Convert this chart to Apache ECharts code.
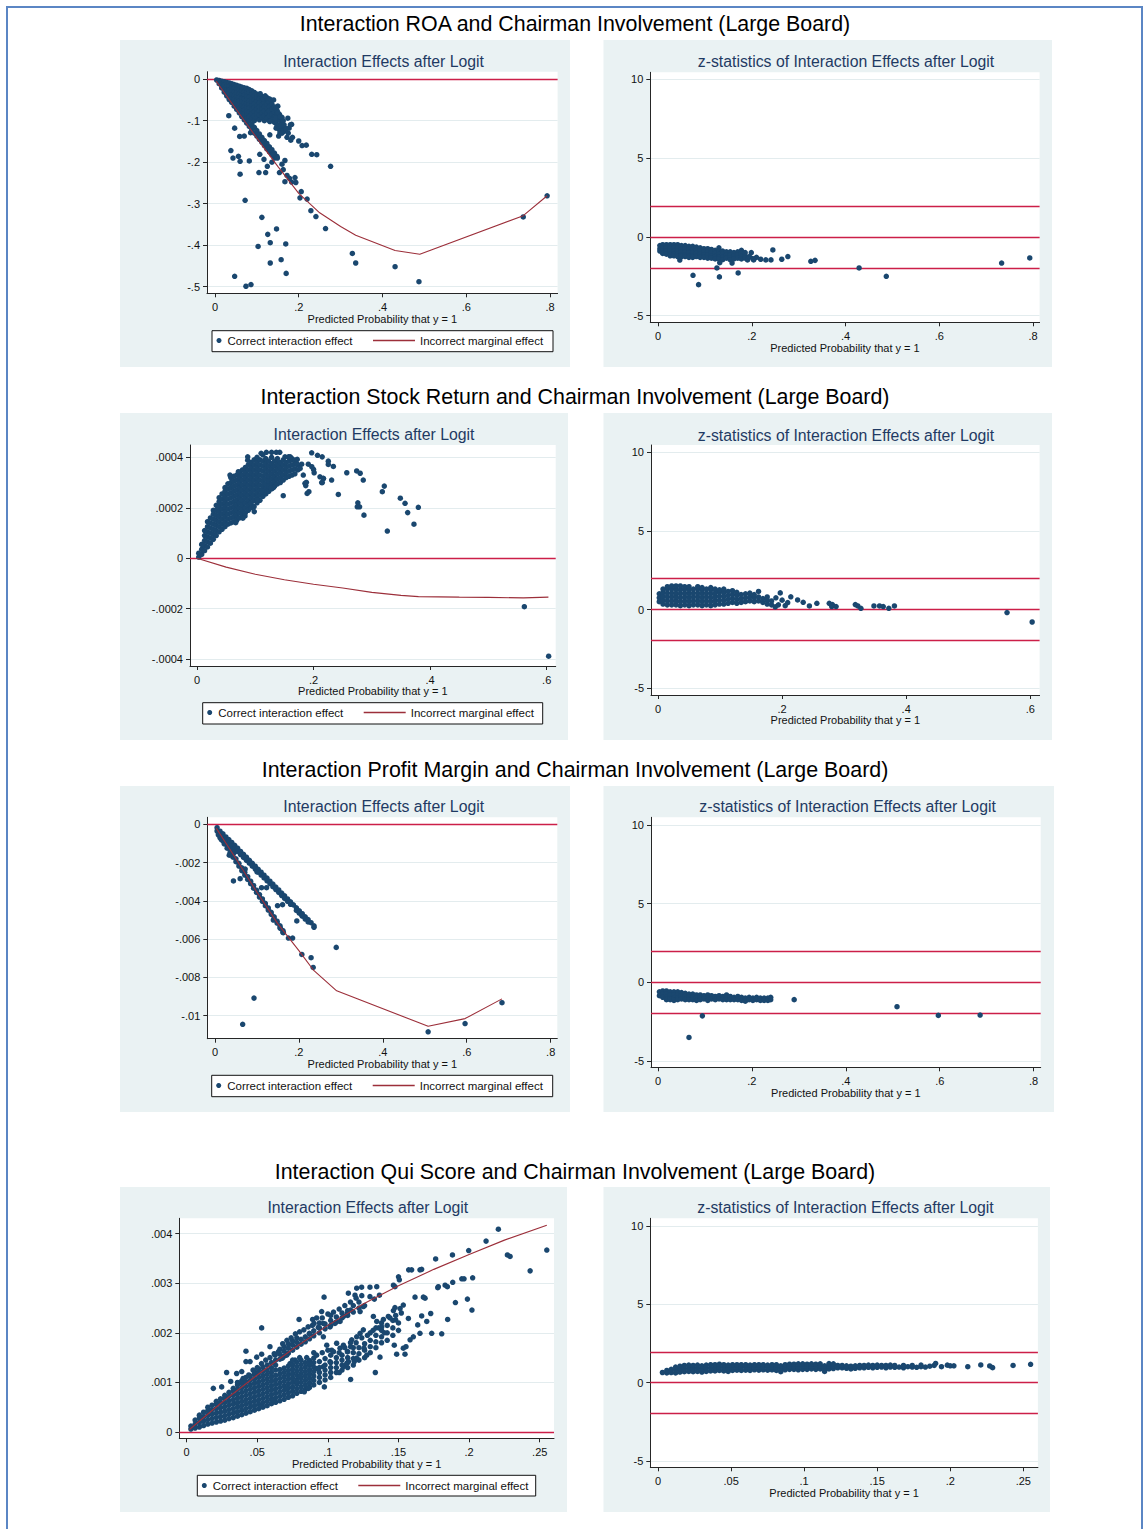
<!DOCTYPE html>
<html>
<head>
<meta charset="utf-8">
<title>Interaction effects after logit</title>
<script src="https://cdn.jsdelivr.net/npm/echarts@6/dist/echarts.min.js"></script>
<style>
  html, body { margin: 0; padding: 0; background: #ffffff; }
  #chart { width: 1144px; height: 1529px; }
</style>
</head>
<body>
<div id="chart"></div>
<script>
// ---------------------------------------------------------------
// Row titles
// ---------------------------------------------------------------
const rowTitles = [
  'Interaction ROA and Chairman Involvement (Large Board)',
  'Interaction Stock Return and Chairman Involvement (Large Board)',
  'Interaction Profit Margin and Chairman Involvement (Large Board)',
  'Interaction Qui Score and Chairman Involvement (Large Board)'
];
const effectTitle = 'Interaction Effects after Logit';
const zTitle = 'z-statistics of Interaction Effects after Logit';
const xAxisTitle = 'Predicted Probability that y = 1';
const legendNames = ['Correct interaction effect', 'Incorrect marginal effect'];

// ---------------------------------------------------------------
// Tick values
// ---------------------------------------------------------------
const probTicks08 = [0, 0.2, 0.4, 0.6, 0.8];
const probTicks06 = [0, 0.2, 0.4, 0.6];
const probTicks025 = [0, 0.05, 0.1, 0.15, 0.2, 0.25];
const zTicks = [-5, 0, 5, 10];
const roaEffectTicks = [0, -0.1, -0.2, -0.3, -0.4, -0.5];
const stockEffectTicks = [-0.0004, -0.0002, 0, 0.0002, 0.0004];
const marginEffectTicks = [0, -0.002, -0.004, -0.006, -0.008, -0.01];
const quiEffectTicks = [0, 0.001, 0.002, 0.003, 0.004];
const zCritical = [1.96, 0, -1.96];

// ---------------------------------------------------------------
// ROA: interaction effect (dense part as columns [x, [y...]])
// ---------------------------------------------------------------
const roaCore = [
  [0.004, [-0.002]],
  [0.01, [-0.003, -0.011]],
  [0.016, [-0.005, -0.013, -0.021]],
  [0.022, [-0.006, -0.015, -0.024, -0.031]],
  [0.028, [-0.008, -0.017, -0.026, -0.035, -0.04]],
  [0.034, [-0.009, -0.018, -0.027, -0.036, -0.045, -0.049]],
  [0.04, [-0.011, -0.02, -0.029, -0.038, -0.047, -0.056]],
  [0.046, [-0.013, -0.022, -0.031, -0.04, -0.049, -0.058, -0.065]],
  [0.052, [-0.015, -0.024, -0.033, -0.042, -0.051, -0.06, -0.069, -0.073]],
  [0.058, [-0.017, -0.026, -0.035, -0.044, -0.053, -0.062, -0.071, -0.081]],
  [0.064, [-0.019, -0.028, -0.037, -0.046, -0.055, -0.064, -0.073, -0.082, -0.09]],
  [0.07, [-0.021, -0.03, -0.039, -0.048, -0.057, -0.066, -0.075, -0.084, -0.093, -0.098]],
  [0.076, [-0.022, -0.032, -0.041, -0.05, -0.059, -0.068, -0.077, -0.086, -0.095, -0.106]],
  [0.082, [-0.025, -0.034, -0.043, -0.052, -0.061, -0.07, -0.079, -0.09, -0.1, -0.114]],
  [0.088, [-0.028, -0.037, -0.046, -0.055, -0.064, -0.073, -0.083, -0.094, -0.108, -0.122]],
  [0.094, [-0.032, -0.041, -0.05, -0.059, -0.068, -0.078, -0.088, -0.1, -0.116, -0.13]],
  [0.1, [-0.036, -0.045, -0.054, -0.063, -0.072, -0.082, -0.093, -0.124, -0.137]],
  [0.106, [-0.038, -0.048, -0.058, -0.067, -0.077, -0.087, -0.098, -0.132, -0.145]],
  [0.112, [-0.042, -0.052, -0.062, -0.072, -0.082, -0.092, -0.14, -0.152]],
  [0.118, [-0.046, -0.056, -0.066, -0.077, -0.088, -0.1, -0.148, -0.16]],
  [0.124, [-0.05, -0.06, -0.071, -0.082, -0.094, -0.155, -0.168]],
  [0.13, [-0.055, -0.066, -0.077, -0.088, -0.1, -0.163, -0.175]],
  [0.136, [-0.06, -0.072, -0.084, -0.095, -0.17, -0.182]],
  [0.142, [-0.067, -0.08, -0.092, -0.104, -0.178, -0.19]],
  [0.148, [-0.075, -0.088, -0.1, -0.112, -0.186]],
  [0.154, [-0.085, -0.098, -0.11, -0.122]],
  [0.16, [-0.092, -0.105, -0.118]]
];
const roaScatter = [
  [0.033, -0.088], [0.047, -0.118], [0.038, -0.172], [0.043, -0.19], [0.056, -0.186],
  [0.06, -0.198], [0.06, -0.229], [0.082, -0.197], [0.105, -0.225], [0.121, -0.225],
  [0.072, -0.292], [0.112, -0.333], [0.126, -0.374], [0.147, -0.361], [0.132, -0.394],
  [0.103, -0.403], [0.169, -0.397], [0.158, -0.435], [0.132, -0.443], [0.17, -0.468],
  [0.047, -0.475], [0.074, -0.499], [0.086, -0.495], [0.276, -0.21], [0.264, -0.36],
  [0.241, -0.331], [0.229, -0.317], [0.22, -0.289], [0.203, -0.286], [0.206, -0.271],
  [0.328, -0.42], [0.336, -0.443], [0.43, -0.452], [0.487, -0.488], [0.736, -0.332],
  [0.793, -0.281], [0.2, -0.149], [0.208, -0.16], [0.218, -0.159], [0.231, -0.181],
  [0.243, -0.182], [0.174, -0.094], [0.183, -0.109], [0.131, -0.048], [0.114, -0.047],
  [0.165, -0.126], [0.172, -0.14], [0.181, -0.147], [0.152, -0.137], [0.131, -0.134],
  [0.141, -0.182], [0.149, -0.19], [0.16, -0.205], [0.167, -0.196], [0.163, -0.218],
  [0.154, -0.225], [0.172, -0.232], [0.167, -0.247], [0.178, -0.239], [0.191, -0.237],
  [0.183, -0.248], [0.193, -0.249], [0.059, -0.138], [0.07, -0.137], [0.085, -0.129],
  [0.107, -0.181], [0.117, -0.193], [0.137, -0.182], [0.136, -0.098], [0.145, -0.094],
  [0.156, -0.112], [0.167, -0.118], [0.161, -0.126], [0.146, -0.118], [0.155, -0.13],
  [0.131, -0.102], [0.163, -0.1], [0.177, -0.118], [0.15, -0.065], [0.125, -0.21], [0.136, -0.2],
  [0.15, -0.08], [0.155, -0.09], [0.16, -0.13], [0.165, -0.11], [0.17, -0.12], [0.175, -0.13],
  [0.18, -0.11], [0.185, -0.14], [0.14, -0.05], [0.145, -0.07], [0.125, -0.045], [0.12, -0.04],
  [0.108, -0.035]
];
const roaMarginalX = [0.003, 0.05, 0.1, 0.15, 0.2, 0.25, 0.3, 0.336, 0.43, 0.489, 0.736, 0.793];
const roaMarginalY = [-0.005, -0.072, -0.142, -0.21, -0.275, -0.322, -0.355, -0.376, -0.413, -0.422, -0.329, -0.281];

// ROA: z-statistics
const roaZBand = [
  [0.004, [-0.55, -0.75, -0.9]],
  [0.01, [-0.5, -0.7, -0.9, -1.05]],
  [0.018, [-0.5, -0.7, -0.9, -1.1]],
  [0.026, [-0.5, -0.7, -0.9, -1.1, -1.2]],
  [0.034, [-0.5, -0.7, -0.9, -1.1, -1.2]],
  [0.042, [-0.5, -0.7, -0.9, -1.1, -1.25]],
  [0.05, [-0.55, -0.75, -0.95, -1.15, -1.25]],
  [0.058, [-0.55, -0.75, -0.95, -1.15, -1.25]],
  [0.066, [-0.6, -0.8, -1.0, -1.2, -1.3]],
  [0.074, [-0.6, -0.8, -1.0, -1.2, -1.3]],
  [0.082, [-0.65, -0.85, -1.05, -1.25]],
  [0.09, [-0.7, -0.9, -1.1, -1.3]],
  [0.098, [-0.75, -0.95, -1.15, -1.3]],
  [0.106, [-0.75, -0.95, -1.15, -1.35]],
  [0.114, [-0.8, -1.0, -1.2, -1.35]],
  [0.122, [-0.85, -1.05, -1.25, -1.4]],
  [0.13, [-0.7, -0.9, -1.1, -1.3, -1.4]],
  [0.138, [-0.9, -1.1, -1.3, -1.45]],
  [0.146, [-0.95, -1.15, -1.35]],
  [0.154, [-0.95, -1.15, -1.35, -1.45]],
  [0.162, [-1.0, -1.2, -1.4]],
  [0.17, [-0.95, -1.15, -1.35]],
  [0.178, [-0.85, -1.05, -1.25, -1.4]],
  [0.186, [-1.0, -1.2, -1.35]]
];
const roaZScatter = [
  [0.0465, -1.47], [0.0747, -2.44], [0.0866, -3.03], [0.1257, -1.97], [0.1317, -1.64],
  [0.131, -2.54], [0.158, -1.66], [0.171, -2.29], [0.199, -1.0], [0.245, -0.83],
  [0.264, -1.42], [0.277, -1.25], [0.219, -1.42], [0.23, -1.46], [0.241, -1.46],
  [0.204, -1.46], [0.191, -1.46], [0.326, -1.55], [0.335, -1.49], [0.429, -1.97],
  [0.487, -2.5], [0.733, -1.66], [0.793, -1.34], [0.21, -1.3], [0.195, -1.25], [0.202, -1.38]
];

// ---------------------------------------------------------------
// Stock return: interaction effect
// ---------------------------------------------------------------
const stockCore = [
  [0.003, [0.05e-4, 0.2e-4]],
  [0.008, [0.15e-4, 0.35e-4, 0.55e-4]],
  [0.013, [0.3e-4, 0.5e-4, 0.7e-4, 0.9e-4, 1.1e-4]],
  [0.018, [0.45e-4, 0.65e-4, 0.85e-4, 1.05e-4, 1.25e-4, 1.45e-4]],
  [0.023, [0.6e-4, 0.8e-4, 1.0e-4, 1.2e-4, 1.4e-4, 1.6e-4]],
  [0.028, [0.75e-4, 0.95e-4, 1.15e-4, 1.35e-4, 1.55e-4, 1.75e-4, 1.9e-4]],
  [0.033, [0.9e-4, 1.1e-4, 1.3e-4, 1.5e-4, 1.7e-4, 1.9e-4, 2.1e-4]],
  [0.038, [1.05e-4, 1.25e-4, 1.45e-4, 1.65e-4, 1.85e-4, 2.05e-4, 2.25e-4, 2.4e-4]],
  [0.043, [1.15e-4, 1.35e-4, 1.55e-4, 1.75e-4, 1.95e-4, 2.15e-4, 2.35e-4, 2.55e-4]],
  [0.048, [1.25e-4, 1.45e-4, 1.65e-4, 1.85e-4, 2.05e-4, 2.25e-4, 2.45e-4, 2.65e-4, 2.8e-4]],
  [0.053, [1.35e-4, 1.55e-4, 1.75e-4, 1.95e-4, 2.15e-4, 2.35e-4, 2.55e-4, 2.75e-4, 2.95e-4]],
  [0.058, [1.4e-4, 1.6e-4, 1.8e-4, 2.0e-4, 2.2e-4, 2.4e-4, 2.6e-4, 2.8e-4, 3.0e-4, 3.2e-4]],
  [0.063, [1.45e-4, 1.65e-4, 1.85e-4, 2.05e-4, 2.25e-4, 2.45e-4, 2.65e-4, 2.85e-4, 3.05e-4, 3.25e-4]],
  [0.068, [1.5e-4, 1.7e-4, 1.9e-4, 2.1e-4, 2.3e-4, 2.5e-4, 2.7e-4, 2.9e-4, 3.1e-4, 3.3e-4]],
  [0.073, [1.6e-4, 1.8e-4, 2.0e-4, 2.2e-4, 2.4e-4, 2.6e-4, 2.8e-4, 3.0e-4, 3.2e-4, 3.4e-4]],
  [0.078, [1.7e-4, 1.9e-4, 2.1e-4, 2.3e-4, 2.5e-4, 2.7e-4, 2.9e-4, 3.1e-4, 3.3e-4, 3.5e-4]],
  [0.083, [1.8e-4, 2.0e-4, 2.2e-4, 2.4e-4, 2.6e-4, 2.8e-4, 3.0e-4, 3.2e-4, 3.4e-4, 3.6e-4]],
  [0.088, [1.9e-4, 2.1e-4, 2.3e-4, 2.5e-4, 2.7e-4, 2.9e-4, 3.1e-4, 3.3e-4, 3.5e-4, 3.7e-4]],
  [0.093, [2.0e-4, 2.2e-4, 2.4e-4, 2.6e-4, 2.8e-4, 3.0e-4, 3.2e-4, 3.4e-4, 3.6e-4, 3.8e-4]],
  [0.098, [2.05e-4, 2.3e-4, 2.5e-4, 2.7e-4, 2.9e-4, 3.1e-4, 3.3e-4, 3.5e-4, 3.7e-4, 3.9e-4]],
  [0.103, [2.2e-4, 2.4e-4, 2.6e-4, 2.8e-4, 3.0e-4, 3.2e-4, 3.4e-4, 3.6e-4, 3.8e-4, 4.0e-4]],
  [0.108, [2.3e-4, 2.5e-4, 2.7e-4, 2.9e-4, 3.1e-4, 3.3e-4, 3.5e-4, 3.7e-4, 3.9e-4]],
  [0.113, [2.45e-4, 2.65e-4, 2.85e-4, 3.05e-4, 3.25e-4, 3.45e-4, 3.65e-4, 3.85e-4, 4.1e-4]],
  [0.118, [2.55e-4, 2.75e-4, 2.95e-4, 3.15e-4, 3.35e-4, 3.55e-4, 3.75e-4, 3.95e-4]],
  [0.123, [2.65e-4, 2.85e-4, 3.05e-4, 3.25e-4, 3.45e-4, 3.65e-4, 3.85e-4]],
  [0.128, [2.75e-4, 2.95e-4, 3.15e-4, 3.35e-4, 3.55e-4, 3.75e-4, 4.0e-4]],
  [0.133, [2.85e-4, 3.05e-4, 3.25e-4, 3.45e-4, 3.65e-4, 3.85e-4]],
  [0.138, [2.95e-4, 3.15e-4, 3.35e-4, 3.55e-4, 3.75e-4, 3.95e-4]],
  [0.143, [3.0e-4, 3.2e-4, 3.4e-4, 3.6e-4, 3.8e-4]],
  [0.148, [3.1e-4, 3.3e-4, 3.5e-4, 3.7e-4, 3.9e-4]],
  [0.153, [3.2e-4, 3.4e-4, 3.6e-4, 3.8e-4]],
  [0.158, [3.25e-4, 3.45e-4, 3.65e-4, 3.85e-4, 4.0e-4]],
  [0.163, [3.3e-4, 3.5e-4, 3.7e-4, 3.9e-4]],
  [0.168, [3.35e-4, 3.55e-4, 3.75e-4]],
  [0.173, [3.5e-4, 3.7e-4]]
];
const stockScatter = [
  [0.087, 4.02e-4], [0.087, 3.89e-4], [0.11, 4.16e-4], [0.119, 4.2e-4], [0.128, 4.2e-4],
  [0.136, 4.2e-4], [0.142, 4.2e-4], [0.151, 4.02e-4], [0.157, 4.02e-4], [0.1625, 3.96e-4],
  [0.168, 3.89e-4], [0.1968, 4.18e-4], [0.2068, 4.08e-4], [0.2148, 4.02e-4], [0.2253, 3.85e-4],
  [0.2253, 3.72e-4], [0.234, 3.64e-4], [0.257, 3.39e-4], [0.274, 3.46e-4], [0.28, 3.37e-4],
  [0.2853, 3.1e-4], [0.2425, 2.53e-4], [0.276, 2.2e-4], [0.279, 2.04e-4], [0.275, 2.04e-4],
  [0.2865, 1.71e-4], [0.318, 2.64e-4], [0.3214, 2.86e-4], [0.3266, 1.08e-4], [0.3489, 2.38e-4],
  [0.357, 2.18e-4], [0.3615, 1.81e-4], [0.3723, 1.35e-4], [0.3798, 2.02e-4], [0.5617, -1.92e-4],
  [0.6034, -3.88e-4], [0.189, 2.57e-4], [0.192, 2.64e-4], [0.148, 2.48e-4], [0.211, 3.23e-4],
  [0.2168, 3.17e-4], [0.214, 3.0e-4], [0.1824, 3.3e-4], [0.1853, 2.97e-4], [0.1796, 3.73e-4],
  [0.2, 3.52e-4], [0.201, 3.39e-4], [0.177, 3.56e-4], [0.171, 3.76e-4], [0.191, 3.73e-4],
  [0.197, 3.63e-4], [0.0983, 1.85e-4], [0.0824, 1.68e-4], [0.0664, 1.41e-4], [0.131, 2.8e-4],
  [0.115, 2.61e-4], [0.092, 2.18e-4], [0.0566, 3.3e-4], [0.071, 3.43e-4], [0.0787, 1.59e-4],
  [0.1267, 2.79e-4], [0.1112, 2.68e-4], [0.1029, 2.32e-4], [0.1866, 2.88e-4], [0.1877, 3.01e-4],
  [0.231, 3.1e-4], [0.217, 3.16e-4], [0.215, 3.0e-4], [0.16, 4.02e-4], [0.172, 3.92e-4]
];
const stockMarginalX = [0, 0.05, 0.1, 0.15, 0.2, 0.25, 0.3, 0.35, 0.38, 0.45, 0.5, 0.56, 0.603];
const stockMarginalY = [0, -0.35e-4, -0.63e-4, -0.85e-4, -1.03e-4, -1.18e-4, -1.35e-4, -1.47e-4, -1.52e-4, -1.54e-4, -1.55e-4, -1.57e-4, -1.54e-4];

// Stock return: z-statistics
const stockZBand = [
  [0.002, [0.5, 0.75, 1.0]],
  [0.008, [0.35, 0.6, 0.85, 1.1, 1.3]],
  [0.015, [0.3, 0.55, 0.8, 1.05, 1.3, 1.45]],
  [0.022, [0.3, 0.55, 0.8, 1.05, 1.3, 1.5]],
  [0.029, [0.3, 0.55, 0.8, 1.05, 1.3, 1.5]],
  [0.036, [0.25, 0.5, 0.75, 1.0, 1.25, 1.5]],
  [0.043, [0.3, 0.55, 0.8, 1.05, 1.3, 1.45]],
  [0.05, [0.25, 0.5, 0.75, 1.0, 1.25, 1.45]],
  [0.057, [0.3, 0.55, 0.8, 1.05, 1.3]],
  [0.064, [0.3, 0.55, 0.8, 1.05, 1.3, 1.45]],
  [0.071, [0.25, 0.5, 0.75, 1.0, 1.25, 1.4]],
  [0.078, [0.3, 0.55, 0.8, 1.05, 1.3]],
  [0.085, [0.25, 0.5, 0.75, 1.0, 1.25, 1.4]],
  [0.092, [0.3, 0.55, 0.8, 1.05, 1.3]],
  [0.099, [0.35, 0.6, 0.85, 1.1, 1.25]],
  [0.106, [0.35, 0.6, 0.85, 1.1, 1.3]],
  [0.113, [0.4, 0.65, 0.9, 1.15]],
  [0.12, [0.45, 0.7, 0.95, 1.2]],
  [0.127, [0.4, 0.65, 0.9, 1.1]],
  [0.134, [0.45, 0.7, 0.95]],
  [0.141, [0.5, 0.75, 1.0]],
  [0.148, [0.55, 0.8, 1.05]],
  [0.155, [0.5, 0.75, 0.95]],
  [0.162, [0.55, 0.8, 1.15]],
  [0.169, [0.45, 0.7]],
  [0.176, [0.35, 0.6, 0.8]],
  [0.183, [0.3, 0.55]]
];
const stockZScatter = [
  [0.197, 1.06], [0.189, 0.17], [0.214, 0.81], [0.209, 0.44], [0.225, 0.61],
  [0.234, 0.46], [0.244, 0.23], [0.256, 0.4], [0.276, 0.4], [0.28, 0.19],
  [0.287, 0.19], [0.281, 0.32], [0.318, 0.32], [0.322, 0.23], [0.327, 0.08],
  [0.348, 0.23], [0.357, 0.23], [0.363, 0.19], [0.372, 0.08], [0.381, 0.23],
  [0.5625, -0.19], [0.603, -0.79], [0.194, 0.3], [0.2, 0.6], [0.19, 0.75], [0.205, 0.25]
];

// ---------------------------------------------------------------
// Profit margin: interaction effect
// ---------------------------------------------------------------
const marginUpperBand = [
  [0.005, [-0.18e-3, -0.35e-3]],
  [0.012, [-0.36e-3, -0.55e-3, -0.7e-3]],
  [0.019, [-0.5e-3, -0.68e-3, -0.86e-3]],
  [0.026, [-0.66e-3, -0.84e-3, -1.02e-3]],
  [0.033, [-0.8e-3, -0.98e-3, -1.16e-3]],
  [0.04, [-0.95e-3, -1.12e-3, -1.3e-3]],
  [0.047, [-1.1e-3, -1.27e-3, -1.45e-3]],
  [0.054, [-1.25e-3, -1.42e-3]],
  [0.061, [-1.42e-3, -1.58e-3]],
  [0.068, [-1.57e-3, -1.73e-3]],
  [0.075, [-1.72e-3, -1.88e-3]],
  [0.082, [-1.88e-3, -2.03e-3]],
  [0.089, [-2.04e-3, -2.19e-3]],
  [0.096, [-2.19e-3, -2.34e-3]],
  [0.103, [-2.35e-3, -2.5e-3]],
  [0.11, [-2.5e-3, -2.65e-3]],
  [0.117, [-2.66e-3, -2.8e-3]],
  [0.124, [-2.81e-3, -2.95e-3]],
  [0.131, [-2.97e-3, -3.1e-3]],
  [0.138, [-3.12e-3, -3.26e-3]],
  [0.145, [-3.28e-3, -3.41e-3]],
  [0.152, [-3.43e-3, -3.56e-3]],
  [0.159, [-3.59e-3, -3.72e-3]],
  [0.166, [-3.74e-3, -3.87e-3]],
  [0.173, [-3.9e-3, -4.02e-3]],
  [0.18, [-4.05e-3, -4.18e-3]],
  [0.187, [-4.21e-3]],
  [0.194, [-4.36e-3, -4.5e-3]],
  [0.201, [-4.52e-3, -4.64e-3]],
  [0.208, [-4.67e-3, -4.8e-3]],
  [0.215, [-4.83e-3, -4.95e-3]],
  [0.222, [-4.98e-3, -5.1e-3]],
  [0.229, [-5.14e-3]],
  [0.236, [-5.3e-3, -5.38e-3]]
];
const marginLowerBand = [
  [0.008, [-0.4e-3, -0.55e-3]],
  [0.015, [-0.62e-3, -0.8e-3]],
  [0.022, [-0.86e-3, -1.02e-3]],
  [0.029, [-1.1e-3, -1.25e-3]],
  [0.036, [-1.33e-3, -1.48e-3]],
  [0.043, [-1.57e-3, -1.72e-3]],
  [0.05, [-1.8e-3, -1.95e-3]],
  [0.057, [-2.04e-3, -2.18e-3]],
  [0.064, [-2.27e-3, -2.42e-3]],
  [0.071, [-2.5e-3, -2.65e-3]],
  [0.078, [-2.74e-3, -2.88e-3]],
  [0.085, [-2.97e-3, -3.1e-3]],
  [0.092, [-3.2e-3, -3.34e-3]],
  [0.099, [-3.44e-3, -3.56e-3]],
  [0.106, [-3.67e-3, -3.8e-3]],
  [0.113, [-3.9e-3, -4.02e-3]],
  [0.12, [-4.13e-3, -4.25e-3]],
  [0.127, [-4.37e-3, -4.48e-3]],
  [0.134, [-4.6e-3, -4.7e-3]],
  [0.141, [-4.83e-3, -4.93e-3]],
  [0.148, [-5.06e-3, -5.16e-3]],
  [0.155, [-5.3e-3, -5.4e-3]],
  [0.162, [-5.55e-3, -5.65e-3]]
];
const marginScatter = [
  [0.044, -2.96e-3], [0.06, -2.84e-3], [0.072, -2.34e-3], [0.034, -1.61e-3], [0.111, -3.31e-3],
  [0.123, -3.31e-3], [0.149, -4.25e-3], [0.161, -4.2e-3], [0.195, -5.05e-3], [0.207, -4.74e-3],
  [0.1, -2.48e-3], [0.175, -5.94e-3], [0.185, -5.94e-3], [0.207, -6.8e-3], [0.229, -6.97e-3],
  [0.234, -7.48e-3], [0.289, -6.43e-3], [0.093, -9.08e-3], [0.066, -10.45e-3], [0.508, -10.84e-3],
  [0.596, -10.41e-3], [0.684, -9.32e-3], [0.139, -5.0e-3], [0.156, -5.44e-3], [0.163, -5.66e-3]
];
const marginMarginalX = [0.003, 0.05, 0.1, 0.15, 0.2, 0.234, 0.29, 0.508, 0.596, 0.684];
const marginMarginalY = [-0.2e-3, -1.8e-3, -3.55e-3, -5.2e-3, -6.6e-3, -7.6e-3, -8.7e-3, -10.55e-3, -10.15e-3, -9.12e-3];

// Profit margin: z-statistics
const marginZBand = [
  [0.003, [-0.6, -0.85]],
  [0.01, [-0.55, -0.75, -0.95]],
  [0.018, [-0.55, -0.75, -0.95, -1.1]],
  [0.026, [-0.6, -0.8, -1.0, -1.1]],
  [0.034, [-0.6, -0.8, -1.0, -1.15]],
  [0.042, [-0.6, -0.8, -1.0, -1.1]],
  [0.05, [-0.65, -0.85, -1.05]],
  [0.058, [-0.7, -0.9, -1.1]],
  [0.066, [-0.75, -0.95, -1.1]],
  [0.074, [-0.75, -0.95, -1.1]],
  [0.082, [-0.8, -1.0, -1.15]],
  [0.09, [-0.8, -1.0, -1.1]],
  [0.098, [-0.85, -1.05]],
  [0.106, [-0.8, -1.0, -1.15]],
  [0.114, [-0.85, -1.05]],
  [0.122, [-0.9, -1.1]],
  [0.13, [-0.85, -1.05]],
  [0.138, [-0.9, -1.1]],
  [0.146, [-0.8, -1.0, -1.1]],
  [0.154, [-0.9, -1.1]],
  [0.162, [-0.95, -1.1]],
  [0.17, [-0.9, -1.1]],
  [0.178, [-0.95, -1.15]],
  [0.186, [-1.0, -1.2]],
  [0.194, [-0.95, -1.1]],
  [0.202, [-1.0, -1.15]],
  [0.21, [-0.95, -1.1]],
  [0.218, [-1.0, -1.15]],
  [0.226, [-1.0, -1.15]],
  [0.234, [-1.0, -1.15]],
  [0.24, [-0.95, -1.1]]
];
const marginZScatter = [
  [0.29, -1.1], [0.509, -1.55], [0.597, -2.1], [0.686, -2.08], [0.0945, -2.13], [0.066, -3.5]
];

// ---------------------------------------------------------------
// Qui score: interaction effect
// ---------------------------------------------------------------
const quiCore = [
  [0.003, [0.06e-3, 0.12e-3]],
  [0.006, [0.08e-3, 0.16e-3, 0.24e-3]],
  [0.009, [0.1e-3, 0.19e-3, 0.28e-3, 0.34e-3]],
  [0.012, [0.13e-3, 0.22e-3, 0.31e-3, 0.4e-3]],
  [0.015, [0.16e-3, 0.25e-3, 0.34e-3, 0.43e-3, 0.5e-3]],
  [0.018, [0.18e-3, 0.27e-3, 0.36e-3, 0.45e-3, 0.54e-3]],
  [0.021, [0.2e-3, 0.29e-3, 0.38e-3, 0.47e-3, 0.56e-3, 0.62e-3]],
  [0.024, [0.22e-3, 0.31e-3, 0.4e-3, 0.49e-3, 0.58e-3, 0.67e-3]],
  [0.027, [0.24e-3, 0.33e-3, 0.42e-3, 0.51e-3, 0.6e-3, 0.69e-3, 0.74e-3]],
  [0.03, [0.27e-3, 0.36e-3, 0.45e-3, 0.54e-3, 0.63e-3, 0.72e-3, 0.8e-3]],
  [0.033, [0.29e-3, 0.38e-3, 0.47e-3, 0.56e-3, 0.65e-3, 0.74e-3, 0.83e-3, 0.88e-3]],
  [0.036, [0.32e-3, 0.41e-3, 0.5e-3, 0.59e-3, 0.68e-3, 0.77e-3, 0.86e-3, 0.95e-3]],
  [0.039, [0.35e-3, 0.44e-3, 0.53e-3, 0.62e-3, 0.71e-3, 0.8e-3, 0.89e-3, 0.98e-3, 1.03e-3]],
  [0.042, [0.38e-3, 0.47e-3, 0.56e-3, 0.65e-3, 0.74e-3, 0.83e-3, 0.92e-3, 1.01e-3, 1.1e-3]],
  [0.045, [0.41e-3, 0.5e-3, 0.59e-3, 0.68e-3, 0.77e-3, 0.86e-3, 0.95e-3, 1.04e-3, 1.13e-3]],
  [0.048, [0.44e-3, 0.53e-3, 0.62e-3, 0.71e-3, 0.8e-3, 0.89e-3, 0.98e-3, 1.07e-3, 1.16e-3, 1.22e-3]],
  [0.051, [0.47e-3, 0.56e-3, 0.65e-3, 0.74e-3, 0.83e-3, 0.92e-3, 1.01e-3, 1.1e-3, 1.19e-3, 1.27e-3]],
  [0.054, [0.5e-3, 0.59e-3, 0.68e-3, 0.77e-3, 0.86e-3, 0.95e-3, 1.04e-3, 1.13e-3, 1.22e-3, 1.31e-3]],
  [0.057, [0.53e-3, 0.62e-3, 0.71e-3, 0.8e-3, 0.89e-3, 0.98e-3, 1.07e-3, 1.16e-3, 1.25e-3, 1.35e-3]],
  [0.06, [0.57e-3, 0.66e-3, 0.75e-3, 0.84e-3, 0.93e-3, 1.02e-3, 1.11e-3, 1.2e-3, 1.3e-3, 1.4e-3]],
  [0.063, [0.6e-3, 0.69e-3, 0.78e-3, 0.87e-3, 0.96e-3, 1.05e-3, 1.14e-3, 1.25e-3, 1.35e-3, 1.45e-3]],
  [0.066, [0.63e-3, 0.72e-3, 0.81e-3, 0.9e-3, 0.99e-3, 1.08e-3, 1.17e-3, 1.26e-3, 1.47e-3, 1.57e-3, 1.67e-3]],
  [0.069, [0.66e-3, 0.75e-3, 0.84e-3, 0.93e-3, 1.02e-3, 1.11e-3, 1.2e-3, 1.29e-3, 1.53e-3, 1.63e-3, 1.72e-3]],
  [0.072, [0.7e-3, 0.79e-3, 0.88e-3, 0.97e-3, 1.06e-3, 1.15e-3, 1.24e-3, 1.33e-3, 1.59e-3, 1.69e-3, 1.78e-3]],
  [0.075, [0.73e-3, 0.82e-3, 0.91e-3, 1.0e-3, 1.09e-3, 1.18e-3, 1.27e-3, 1.36e-3, 1.65e-3, 1.75e-3, 1.84e-3]],
  [0.078, [0.78e-3, 0.87e-3, 0.96e-3, 1.05e-3, 1.14e-3, 1.23e-3, 1.32e-3, 1.41e-3, 1.71e-3, 1.81e-3, 1.9e-3]],
  [0.081, [0.82e-3, 0.91e-3, 1.0e-3, 1.09e-3, 1.18e-3, 1.27e-3, 1.36e-3, 1.45e-3, 1.77e-3, 1.87e-3]],
  [0.084, [0.86e-3, 0.95e-3, 1.04e-3, 1.13e-3, 1.22e-3, 1.31e-3, 1.4e-3, 1.82e-3, 1.92e-3]],
  [0.087, [0.9e-3, 0.99e-3, 1.08e-3, 1.17e-3, 1.26e-3, 1.35e-3, 1.44e-3, 1.88e-3, 1.98e-3]],
  [0.09, [0.95e-3, 1.04e-3, 1.13e-3, 1.22e-3, 1.31e-3, 1.4e-3, 1.49e-3, 1.94e-3, 2.04e-3]],
  [0.094, [1.0e-3, 1.1e-3, 1.2e-3, 1.3e-3, 1.42e-3, 2.0e-3, 2.1e-3, 2.2e-3]],
  [0.098, [1.05e-3, 1.15e-3, 1.25e-3, 1.35e-3, 1.48e-3, 2.08e-3, 2.18e-3]],
  [0.102, [1.1e-3, 1.2e-3, 1.3e-3, 1.4e-3, 1.55e-3, 2.15e-3, 2.25e-3, 2.35e-3]],
  [0.106, [1.2e-3, 1.3e-3, 1.4e-3, 1.5e-3, 2.22e-3, 2.32e-3]],
  [0.11, [1.25e-3, 1.35e-3, 1.45e-3, 1.55e-3, 2.3e-3, 2.4e-3]],
  [0.114, [1.3e-3, 1.4e-3, 1.5e-3, 1.62e-3, 2.35e-3, 2.45e-3]],
  [0.118, [1.35e-3, 1.48e-3, 1.6e-3, 1.7e-3, 2.42e-3, 2.55e-3]],
  [0.122, [1.45e-3, 1.58e-3, 1.7e-3, 2.5e-3, 2.62e-3]],
  [0.126, [1.5e-3, 1.65e-3, 1.78e-3, 2.55e-3]],
  [0.13, [1.6e-3, 1.72e-3, 1.85e-3, 2.0e-3]],
  [0.134, [1.7e-3, 1.82e-3, 1.95e-3, 2.1e-3]],
  [0.138, [1.8e-3, 1.92e-3, 2.05e-3, 2.2e-3]],
  [0.142, [1.85e-3, 2.0e-3, 2.15e-3]],
  [0.146, [1.95e-3, 2.1e-3, 2.25e-3]],
  [0.15, [2.05e-3, 2.2e-3]]
];
const quiScatter = [
  [0.2207, 4.09e-3], [0.212, 3.85e-3], [0.1997, 3.66e-3], [0.1882, 3.57e-3], [0.1763, 3.49e-3],
  [0.2271, 3.57e-3], [0.229, 3.54e-3], [0.255, 3.67e-3], [0.2432, 3.25e-3], [0.2025, 3.11e-3],
  [0.1948, 3.09e-3], [0.1964, 3.09e-3], [0.1884, 3.02e-3], [0.183, 2.96e-3], [0.1846, 2.93e-3],
  [0.1782, 2.93e-3], [0.1778, 2.91e-3], [0.1903, 2.61e-3], [0.1988, 2.68e-3], [0.202, 2.46e-3],
  [0.1848, 2.27e-3], [0.1806, 1.98e-3], [0.1728, 2.39e-3], [0.17, 2.23e-3], [0.1636, 2.16e-3],
  [0.1664, 2.34e-3], [0.1688, 2.7e-3], [0.1676, 2.72e-3], [0.1617, 2.72e-3], [0.1652, 3.27e-3],
  [0.1664, 3.28e-3], [0.1572, 3.27e-3], [0.1593, 3.27e-3], [0.15, 3.13e-3], [0.1506, 3.07e-3],
  [0.1464, 2.96e-3], [0.1475, 2.93e-3], [0.1534, 2.56e-3], [0.1511, 2.49e-3], [0.157, 2.29e-3],
  [0.1475, 2.51e-3], [0.1464, 2.45e-3], [0.148, 2.26e-3], [0.147, 1.75e-3], [0.1553, 1.72e-3],
  [0.1487, 1.57e-3], [0.1546, 1.57e-3], [0.1336, 1.2e-3], [0.1161, 1.06e-3], [0.1369, 1.51e-3],
  [0.1275, 1.55e-3], [0.1256, 1.69e-3], [0.1428, 2.33e-3], [0.1393, 2.27e-3], [0.1381, 2.12e-3],
  [0.1346, 2.23e-3], [0.1322, 2.33e-3], [0.1251, 2.53e-3], [0.1228, 2.43e-3], [0.1192, 2.76e-3],
  [0.1145, 2.8e-3], [0.1204, 2.9e-3], [0.1239, 2.92e-3], [0.1298, 2.92e-3], [0.1346, 2.93e-3],
  [0.1329, 2.68e-3], [0.1365, 2.76e-3], [0.1298, 2.73e-3], [0.0973, 2.72e-3], [0.0956, 2.43e-3],
  [0.0892, 2.27e-3], [0.0902, 2.19e-3], [0.0932, 2.11e-3], [0.0968, 2.19e-3], [0.1015, 2.12e-3],
  [0.105, 2.19e-3], [0.1086, 2.23e-3], [0.111, 2.33e-3], [0.1138, 2.39e-3], [0.1161, 2.46e-3],
  [0.0796, 2.27e-3], [0.0531, 2.1e-3], [0.042, 1.63e-3], [0.0283, 1.2e-3], [0.0496, 1.51e-3],
  [0.0531, 1.57e-3], [0.059, 1.72e-3], [0.0626, 1.55e-3], [0.0449, 1.42e-3], [0.042, 1.42e-3],
  [0.0354, 1.18e-3], [0.039, 1.22e-3], [0.0189, 0.88e-3], [0.0248, 0.91e-3], [0.0312, 1.02e-3],
  [0.0524, 0.51e-3], [0.0614, 0.65e-3], [0.0708, 0.88e-3], [0.0833, 0.81e-3], [0.0862, 0.88e-3],
  [0.0975, 0.91e-3], [0.1081, 1.2e-3], [0.0968, 1.32e-3], [0.1015, 1.42e-3], [0.0873, 1.38e-3],
  [0.0921, 1.28e-3], [0.0779, 1.02e-3], [0.0803, 1.12e-3], [0.0732, 1.38e-3], [0.0767, 1.45e-3],
  [0.0678, 1.49e-3], [0.0708, 1.55e-3], [0.111, 1.32e-3], [0.1133, 1.38e-3], [0.1145, 1.42e-3],
  [0.1187, 1.42e-3], [0.1204, 1.49e-3], [0.1062, 1.79e-3], [0.1086, 1.69e-3], [0.111, 1.75e-3],
  [0.1138, 1.62e-3], [0.1161, 1.72e-3], [0.1204, 1.92e-3], [0.1228, 1.99e-3], [0.1169, 1.86e-3],
  [0.1251, 2.06e-3], [0.0992, 1.75e-3], [0.1027, 1.65e-3], [0.0869, 1.99e-3], [0.0968, 1.92e-3],
  [0.1582, 1.86e-3], [0.1605, 1.92e-3], [0.1652, 1.99e-3], [0.1735, 1.99e-3], [0.1534, 1.69e-3],
  // points just above the marginal-effect line
  [0.036, 1.0e-3], [0.04, 1.08e-3], [0.044, 1.15e-3], [0.047, 1.25e-3], [0.05, 1.3e-3],
  [0.053, 1.38e-3], [0.056, 1.45e-3], [0.059, 1.5e-3], [0.062, 1.58e-3], [0.065, 1.62e-3],
  [0.068, 1.78e-3], [0.071, 1.85e-3], [0.074, 1.9e-3], [0.077, 1.98e-3], [0.08, 2.02e-3],
  [0.083, 2.06e-3], [0.086, 2.12e-3], [0.089, 2.15e-3], [0.092, 2.3e-3], [0.096, 2.3e-3],
  [0.1, 2.38e-3], [0.104, 2.42e-3], [0.108, 2.48e-3], [0.112, 2.55e-3], [0.116, 2.62e-3],
  [0.12, 2.7e-3], [0.124, 2.75e-3],
  // lower band beyond the dense core
  [0.092, 1.55e-3], [0.096, 1.6e-3], [0.1, 1.65e-3], [0.104, 1.62e-3], [0.108, 1.6e-3],
  [0.112, 1.7e-3], [0.116, 1.8e-3], [0.12, 1.8e-3], [0.124, 1.9e-3], [0.128, 1.95e-3],
  [0.132, 2.05e-3], [0.136, 2.1e-3], [0.14, 2.0e-3], [0.144, 2.3e-3], [0.148, 2.35e-3],
  [0.152, 2.4e-3], [0.09, 1.6e-3], [0.085, 1.5e-3], [0.08, 1.5e-3], [0.075, 1.45e-3]
];
const quiMarginalX = [0.002, 0.025, 0.05, 0.075, 0.1, 0.125, 0.15, 0.175, 0.2, 0.225, 0.255];
const quiMarginalY = [0.05e-3, 0.6e-3, 1.15e-3, 1.67e-3, 2.15e-3, 2.58e-3, 2.95e-3, 3.28e-3, 3.58e-3, 3.87e-3, 4.17e-3];

// Qui score: z-statistics
const quiZBand = [
  [0.003, [0.65]], [0.006, [0.62, 0.78]], [0.009, [0.65, 0.85]], [0.012, [0.62, 0.82, 1.0]],
  [0.015, [0.68, 0.88, 1.05]], [0.018, [0.7, 0.9, 1.1]], [0.021, [0.72, 0.92, 1.12]],
  [0.024, [0.7, 0.9, 1.1]], [0.027, [0.72, 0.92, 1.12]], [0.03, [0.68, 0.88, 1.08]],
  [0.033, [0.72, 0.92, 1.12]], [0.036, [0.75, 0.95, 1.15]], [0.039, [0.75, 0.95, 1.15]],
  [0.042, [0.78, 0.98, 1.18]], [0.045, [0.75, 0.95, 1.15]], [0.048, [0.72, 0.92, 1.12]],
  [0.051, [0.78, 0.98, 1.15]], [0.054, [0.8, 1.0, 1.15]], [0.057, [0.78, 0.98, 1.15]],
  [0.06, [0.8, 1.0, 1.15]], [0.063, [0.78, 0.98, 1.12]], [0.066, [0.82, 1.0, 1.15]],
  [0.069, [0.8, 0.98, 1.15]], [0.072, [0.82, 1.0, 1.15]], [0.075, [0.8, 0.98, 1.12]],
  [0.078, [0.82, 1.0, 1.15]], [0.081, [0.78, 0.98, 1.15]], [0.084, [0.7, 0.9, 1.08]],
  [0.087, [0.82, 1.0, 1.15]], [0.09, [0.85, 1.02, 1.18]], [0.093, [0.85, 1.02, 1.18]],
  [0.096, [0.82, 1.0, 1.2]], [0.099, [0.85, 1.05, 1.2]], [0.102, [0.85, 1.05, 1.18]],
  [0.105, [0.88, 1.05, 1.2]], [0.108, [0.85, 1.02, 1.18]], [0.111, [0.88, 1.05, 1.2]],
  [0.114, [0.72, 0.9, 1.08]], [0.117, [0.88, 1.05, 1.22]], [0.12, [0.9, 1.08, 1.2]],
  [0.123, [0.95, 1.1]], [0.126, [0.95, 1.1]], [0.129, [0.92, 1.08]], [0.132, [0.88, 1.05]],
  [0.135, [0.92, 1.08]], [0.138, [0.95, 1.1]], [0.141, [0.95, 1.1]], [0.144, [0.98, 1.12]],
  [0.147, [0.95, 1.1]], [0.15, [0.98, 1.12]], [0.153, [1.0, 1.1]], [0.156, [0.95, 1.1]],
  [0.159, [1.0, 1.12]], [0.162, [0.98, 1.1]], [0.165, [1.0]], [0.168, [0.95, 1.1]],
  [0.171, [1.02]], [0.174, [1.0, 1.1]], [0.177, [0.98]], [0.18, [1.02, 1.12]],
  [0.183, [1.0]], [0.186, [1.05]], [0.189, [1.1]], [0.19, [1.23]], [0.194, [1.02]],
  [0.198, [1.12]], [0.2, [1.08]], [0.2025, [1.08]]
];
const quiZScatter = [
  [0.212, 1.02], [0.2209, 1.13], [0.227, 1.07], [0.229, 0.96], [0.243, 1.1], [0.255, 1.17]
];

// ---------------------------------------------------------------
// Page layout (pixels) and axis ranges for each of the eight plots
// ---------------------------------------------------------------
const LAYOUT = [
  { grid: [207, 71.7, 350.6, 221.6], x: [-0.019, 0.818], y: [-0.516, 0.018], bg: [120, 40, 450, 327], title: [383.6, 61], legend: [212, 330.7, 341, 21] },
  { grid: [650.3, 72.3, 389.3, 250], x: [-0.0164, 0.814], y: [-5.42, 10.44], bg: [603.5, 40, 448.5, 327], title: [846, 61.7] },
  { grid: [190, 445, 365.7, 221], x: [-0.012, 0.6155], y: [-0.000427, 0.000449], bg: [120, 413, 448, 327], title: [374, 434.7], legend: [202.7, 702.7, 340, 21.3] },
  { grid: [651, 445, 388.6, 250], x: [-0.0113, 0.615], y: [-5.43, 10.46], bg: [603.5, 413, 448.5, 327], title: [846, 435] },
  { grid: [207.3, 817.3, 350, 221.4], x: [-0.0183, 0.8158], y: [-0.0112, 0.000366], bg: [120, 786, 450, 326], title: [383.7, 806.7], legend: [211.7, 1075.3, 341, 21.4] },
  { grid: [651, 817.3, 389.7, 250], x: [-0.0149, 0.815], y: [-5.4, 10.49], bg: [603.5, 786, 450.5, 326], title: [847.6, 806.7] },
  { grid: [179.3, 1218.3, 374.7, 220], x: [-0.0052, 0.2601], y: [-0.000127, 0.00431], bg: [120, 1187, 447, 325], title: [367.8, 1207.3], legend: [197.3, 1475.3, 338.4, 20.7] },
  { grid: [650.3, 1218.3, 387.6, 249], x: [-0.0053, 0.26], y: [-5.4, 10.49], bg: [603.5, 1187, 446.5, 325], title: [845.5, 1207.7] }
];
const ROW_TITLE_Y = [24, 397, 770, 1172];
const ROW_TITLE_X = 575;

const FONT = '"Liberation Sans", Arial, Helvetica, sans-serif';
const NAVY = '#1a476f';
const TITLE_NAVY = '#1f3a63';
const YLINE_RED = '#cc1f48';
const MARGINAL_RED = '#9c2f3a';
const PANEL_BG = '#eaf2f3';
const GRID_LINE = '#e3ecee';
const AXIS_INK = '#262626';

// ---------------------------------------------------------------
// Helpers
// ---------------------------------------------------------------
function fromColumns(cols) {
  const out = [];
  cols.forEach(function (c) { c[1].forEach(function (y) { out.push([c[0], y]); }); });
  return out;
}
function zipXY(xs, ys) { return xs.map(function (x, i) { return [x, ys[i]]; }); }
// Stata-style tick labels: drop the leading zero (".2", "-.0004")
function stataLabel(v) {
  if (v === 0) return '0';
  const s = String(+Number(v).toPrecision(8));
  return s.replace(/^(-?)0\./, '$1.');
}

const panels = [
  { kind: 'effect', points: fromColumns(roaCore).concat(roaScatter), marginal: zipXY(roaMarginalX, roaMarginalY), xTicks: probTicks08, yTicks: roaEffectTicks },
  { kind: 'z', points: fromColumns(roaZBand).concat(roaZScatter), xTicks: probTicks08, yTicks: zTicks },
  { kind: 'effect', points: fromColumns(stockCore).concat(stockScatter), marginal: zipXY(stockMarginalX, stockMarginalY), xTicks: probTicks06, yTicks: stockEffectTicks },
  { kind: 'z', points: fromColumns(stockZBand).concat(stockZScatter), xTicks: probTicks06, yTicks: zTicks },
  { kind: 'effect', points: fromColumns(marginUpperBand).concat(fromColumns(marginLowerBand), marginScatter), marginal: zipXY(marginMarginalX, marginMarginalY), xTicks: probTicks08, yTicks: marginEffectTicks },
  { kind: 'z', points: fromColumns(marginZBand).concat(marginZScatter), xTicks: probTicks08, yTicks: zTicks },
  { kind: 'effect', points: fromColumns(quiCore).concat(quiScatter), marginal: zipXY(quiMarginalX, quiMarginalY), xTicks: probTicks025, yTicks: quiEffectTicks },
  { kind: 'z', points: fromColumns(quiZBand).concat(quiZScatter), xTicks: probTicks025, yTicks: zTicks }
];

// ---------------------------------------------------------------
// Build the option
// ---------------------------------------------------------------
const grids = [], xAxes = [], yAxes = [], series = [], legends = [];
const graphics = [];

// outer frame
graphics.push({ type: 'rect', z: -20, shape: { x: 7, y: 7, width: 1135, height: 1600 },
  style: { fill: 'none', stroke: '#5b86c4', lineWidth: 2 } });

rowTitles.forEach(function (t, r) {
  graphics.push({ type: 'text', z: 10, x: ROW_TITLE_X, y: ROW_TITLE_Y[r],
    style: { text: t, fill: '#000', font: '21.4px ' + FONT, align: 'center', verticalAlign: 'middle' } });
});

panels.forEach(function (p, i) {
  const L = LAYOUT[i];
  graphics.push({ type: 'rect', z: -10, shape: { x: L.bg[0], y: L.bg[1], width: L.bg[2], height: L.bg[3] },
    style: { fill: PANEL_BG } });
  graphics.push({ type: 'text', z: 10, x: L.title[0], y: L.title[1],
    style: { text: p.kind === 'effect' ? effectTitle : zTitle, fill: TITLE_NAVY,
      font: '15.8px ' + FONT, align: 'center', verticalAlign: 'middle' } });

  grids.push({ left: L.grid[0], top: L.grid[1], width: L.grid[2], height: L.grid[3],
    show: true, backgroundColor: '#ffffff', borderWidth: 0, containLabel: false });

  xAxes.push({
    type: 'value', gridIndex: i, min: L.x[0], max: L.x[1],
    name: xAxisTitle, nameLocation: 'middle', nameGap: 19.5,
    nameTextStyle: { fontSize: 11, color: '#111', fontFamily: FONT },
    axisLine: { show: true, onZero: false, lineStyle: { color: AXIS_INK, width: 1 } },
    axisTick: { show: true, inside: false, length: 4, customValues: p.xTicks, lineStyle: { color: AXIS_INK, width: 1 } },
    axisLabel: { customValues: p.xTicks, formatter: stataLabel, fontSize: 11, color: '#111', fontFamily: FONT, margin: 8 },
    splitLine: { show: false }
  });
  yAxes.push({
    type: 'value', gridIndex: i, min: L.y[0], max: L.y[1],
    axisLine: { show: true, onZero: false, lineStyle: { color: AXIS_INK, width: 1 } },
    axisTick: { show: true, inside: false, length: 4, customValues: p.yTicks, lineStyle: { color: AXIS_INK, width: 1 } },
    axisLabel: { customValues: p.yTicks, formatter: stataLabel, fontSize: 11, color: '#111', fontFamily: FONT, margin: 7 },
    splitLine: { show: true, lineStyle: { color: GRID_LINE, width: 1 } }
  });

  const lines = p.kind === 'effect' ? [0] : zCritical;
  series.push({
    type: 'scatter', name: p.kind === 'effect' ? legendNames[0] : 'z-statistic',
    xAxisIndex: i, yAxisIndex: i, data: p.points, symbol: 'circle', symbolSize: 5.5,
    itemStyle: { color: NAVY, opacity: 1 }, z: 3, silent: true, animation: false,
    markLine: { silent: true, symbol: ['none', 'none'], z: 2, animation: false,
      label: { show: false }, lineStyle: { color: YLINE_RED, width: 1.3, type: 'solid' },
      emphasis: { disabled: true },
      data: lines.map(function (v) { return { yAxis: v }; }) }
  });

  if (p.kind === 'effect') {
    series.push({
      type: 'line', name: legendNames[1], xAxisIndex: i, yAxisIndex: i, data: p.marginal,
      showSymbol: false, symbol: 'none', smooth: false, z: 4, silent: true, animation: false,
      lineStyle: { color: MARGINAL_RED, width: 1.1 }, itemStyle: { color: MARGINAL_RED, borderWidth: 0 }
    });
    const lg = L.legend;
    const cy = Math.round(lg[1] + lg[3] / 2);
    graphics.push({ type: 'rect', z: -5, shape: { x: lg[0], y: lg[1], width: lg[2], height: lg[3] },
      style: { fill: '#ffffff', stroke: '#111', lineWidth: 1 } });
    legends.push({ data: [legendNames[0]], left: lg[0] + 4.5, top: cy - 6.5, padding: 0,
      itemWidth: 7, itemHeight: 5, icon: 'circle', selectedMode: false,
      itemStyle: { color: NAVY, opacity: 1, borderWidth: 0 },
      textStyle: { fontSize: 11.5, color: '#111', fontFamily: FONT } });
    legends.push({ data: [legendNames[1]], left: lg[0] + 161, top: cy - 6.5, padding: 0,
      itemWidth: 42, itemHeight: 1.4, icon: 'rect', selectedMode: false,
      itemStyle: { color: MARGINAL_RED, opacity: 1, borderWidth: 0, borderColor: MARGINAL_RED },
      textStyle: { fontSize: 11.5, color: '#111', fontFamily: FONT } });
  }
});

const chart = echarts.init(document.getElementById('chart'), null, { renderer: 'svg', width: 1144, height: 1529 });
chart.setOption({
  animation: false,
  backgroundColor: '#ffffff',
  textStyle: { fontFamily: FONT },
  graphic: { elements: graphics },
  grid: grids,
  xAxis: xAxes,
  yAxis: yAxes,
  legend: legends,
  series: series
});
</script>
</body>
</html>
